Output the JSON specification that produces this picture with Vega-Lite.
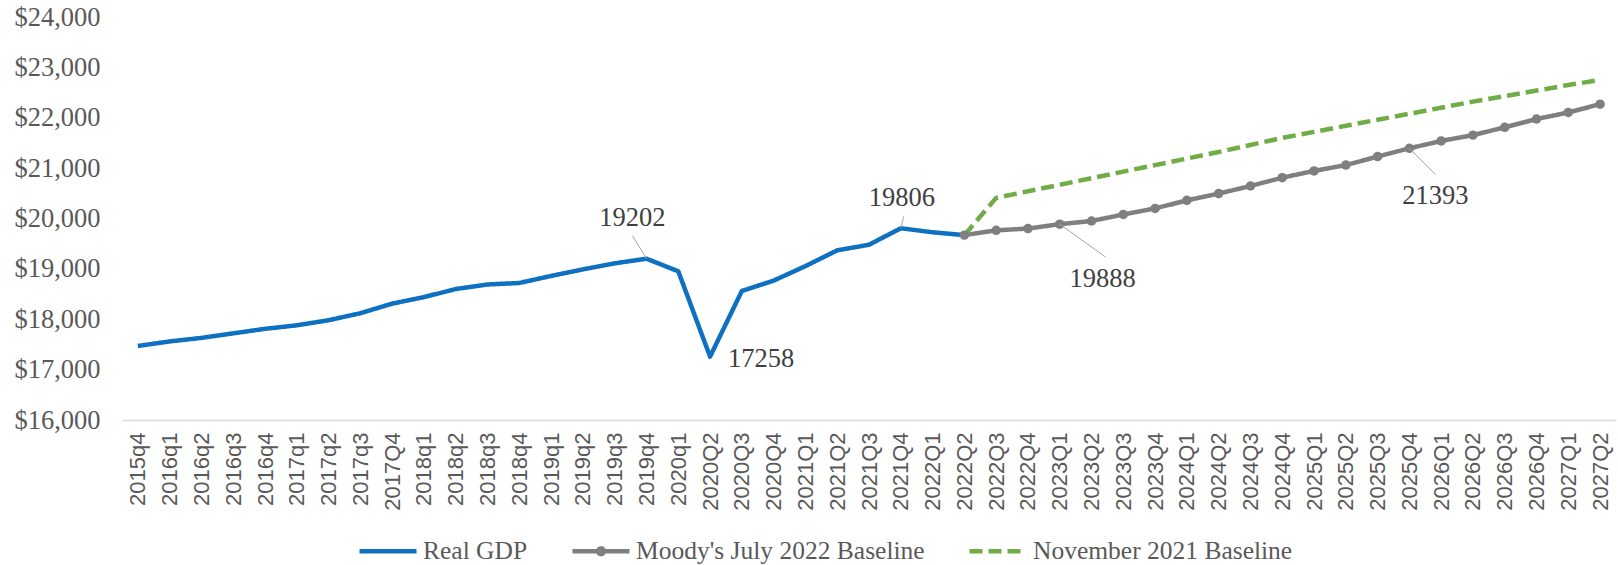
{
  "$schema": "https://vega.github.io/schema/vega-lite/v6.json",
  "width": 1494,
  "height": 403,
  "autosize": "none",
  "padding": {"left": 122, "top": 17, "right": 2, "bottom": 145},
  "background": "white",
  "config": {"view": {"stroke": null}},
  "data": {"values": [
    {"q": "2015q4", "series": "Real GDP", "value": 17470},
    {"q": "2016q1", "series": "Real GDP", "value": 17560},
    {"q": "2016q2", "series": "Real GDP", "value": 17630},
    {"q": "2016q3", "series": "Real GDP", "value": 17720},
    {"q": "2016q4", "series": "Real GDP", "value": 17810},
    {"q": "2017q1", "series": "Real GDP", "value": 17880},
    {"q": "2017q2", "series": "Real GDP", "value": 17980},
    {"q": "2017q3", "series": "Real GDP", "value": 18120},
    {"q": "2017Q4", "series": "Real GDP", "value": 18310},
    {"q": "2018q1", "series": "Real GDP", "value": 18440},
    {"q": "2018q2", "series": "Real GDP", "value": 18600},
    {"q": "2018q3", "series": "Real GDP", "value": 18690},
    {"q": "2018q4", "series": "Real GDP", "value": 18720},
    {"q": "2019q1", "series": "Real GDP", "value": 18860},
    {"q": "2019q2", "series": "Real GDP", "value": 18990},
    {"q": "2019q3", "series": "Real GDP", "value": 19110},
    {"q": "2019q4", "series": "Real GDP", "value": 19202, "note": "19202"},
    {"q": "2020q1", "series": "Real GDP", "value": 18952},
    {"q": "2020Q2", "series": "Real GDP", "value": 17258, "note": "17258"},
    {"q": "2020Q3", "series": "Real GDP", "value": 18561},
    {"q": "2020Q4", "series": "Real GDP", "value": 18767},
    {"q": "2021Q1", "series": "Real GDP", "value": 19055},
    {"q": "2021Q2", "series": "Real GDP", "value": 19368},
    {"q": "2021Q3", "series": "Real GDP", "value": 19479},
    {"q": "2021Q4", "series": "Real GDP", "value": 19806, "note": "19806"},
    {"q": "2022Q1", "series": "Real GDP", "value": 19727},
    {"q": "2022Q2", "series": "Real GDP", "value": 19670},
    {"q": "2022Q2", "series": "Moody's July 2022 Baseline", "value": 19670},
    {"q": "2022Q3", "series": "Moody's July 2022 Baseline", "value": 19765},
    {"q": "2022Q4", "series": "Moody's July 2022 Baseline", "value": 19800},
    {"q": "2023Q1", "series": "Moody's July 2022 Baseline", "value": 19888, "note": "19888"},
    {"q": "2023Q2", "series": "Moody's July 2022 Baseline", "value": 19950},
    {"q": "2023Q3", "series": "Moody's July 2022 Baseline", "value": 20080},
    {"q": "2023Q4", "series": "Moody's July 2022 Baseline", "value": 20200},
    {"q": "2024Q1", "series": "Moody's July 2022 Baseline", "value": 20360},
    {"q": "2024Q2", "series": "Moody's July 2022 Baseline", "value": 20495},
    {"q": "2024Q3", "series": "Moody's July 2022 Baseline", "value": 20645},
    {"q": "2024Q4", "series": "Moody's July 2022 Baseline", "value": 20810},
    {"q": "2025Q1", "series": "Moody's July 2022 Baseline", "value": 20945},
    {"q": "2025Q2", "series": "Moody's July 2022 Baseline", "value": 21060},
    {"q": "2025Q3", "series": "Moody's July 2022 Baseline", "value": 21230},
    {"q": "2025Q4", "series": "Moody's July 2022 Baseline", "value": 21393, "note": "21393"},
    {"q": "2026Q1", "series": "Moody's July 2022 Baseline", "value": 21540},
    {"q": "2026Q2", "series": "Moody's July 2022 Baseline", "value": 21655},
    {"q": "2026Q3", "series": "Moody's July 2022 Baseline", "value": 21810},
    {"q": "2026Q4", "series": "Moody's July 2022 Baseline", "value": 21975},
    {"q": "2027Q1", "series": "Moody's July 2022 Baseline", "value": 22105},
    {"q": "2027Q2", "series": "Moody's July 2022 Baseline", "value": 22270},
    {"q": "2022Q2", "series": "November 2021 Baseline", "value": 19670},
    {"q": "2022Q3", "series": "November 2021 Baseline", "value": 20410},
    {"q": "2022Q4", "series": "November 2021 Baseline", "value": 20540},
    {"q": "2023Q1", "series": "November 2021 Baseline", "value": 20670},
    {"q": "2023Q2", "series": "November 2021 Baseline", "value": 20800},
    {"q": "2023Q3", "series": "November 2021 Baseline", "value": 20930},
    {"q": "2023Q4", "series": "November 2021 Baseline", "value": 21060},
    {"q": "2024Q1", "series": "November 2021 Baseline", "value": 21190},
    {"q": "2024Q2", "series": "November 2021 Baseline", "value": 21320},
    {"q": "2024Q3", "series": "November 2021 Baseline", "value": 21460},
    {"q": "2024Q4", "series": "November 2021 Baseline", "value": 21600},
    {"q": "2025Q1", "series": "November 2021 Baseline", "value": 21720},
    {"q": "2025Q2", "series": "November 2021 Baseline", "value": 21840},
    {"q": "2025Q3", "series": "November 2021 Baseline", "value": 21960},
    {"q": "2025Q4", "series": "November 2021 Baseline", "value": 22080},
    {"q": "2026Q1", "series": "November 2021 Baseline", "value": 22200},
    {"q": "2026Q2", "series": "November 2021 Baseline", "value": 22320},
    {"q": "2026Q3", "series": "November 2021 Baseline", "value": 22430},
    {"q": "2026Q4", "series": "November 2021 Baseline", "value": 22540},
    {"q": "2027Q1", "series": "November 2021 Baseline", "value": 22650},
    {"q": "2027Q2", "series": "November 2021 Baseline", "value": 22750}
  ]},
  "encoding": {
    "x": {
      "field": "q", "type": "ordinal",
      "scale": {"type": "point", "padding": 0.5, "domain": ["2015q4","2016q1","2016q2","2016q3","2016q4","2017q1","2017q2","2017q3","2017Q4","2018q1","2018q2","2018q3","2018q4","2019q1","2019q2","2019q3","2019q4","2020q1","2020Q2","2020Q3","2020Q4","2021Q1","2021Q2","2021Q3","2021Q4","2022Q1","2022Q2","2022Q3","2022Q4","2023Q1","2023Q2","2023Q3","2023Q4","2024Q1","2024Q2","2024Q3","2024Q4","2025Q1","2025Q2","2025Q3","2025Q4","2026Q1","2026Q2","2026Q3","2026Q4","2027Q1","2027Q2"]},
      "axis": {"title": null, "labelAngle": -90, "labelFont": "Liberation Sans", "labelFontSize": 22, "labelColor": "#595959", "ticks": false, "tickSize": 0, "labelPadding": 12, "domainColor": "#D9D9D9", "domainWidth": 1.5, "grid": false}
    },
    "y": {
      "field": "value", "type": "quantitative",
      "scale": {"domain": [16000, 24000], "nice": false, "zero": false},
      "axis": {"title": null, "values": [16000,17000,18000,19000,20000,21000,22000,23000,24000], "format": "$,.0f", "labelFont": "Liberation Serif", "labelFontSize": 26.5, "labelColor": "#595959", "ticks": false, "tickSize": 0, "labelPadding": 22, "domain": false, "grid": false}
    }
  },
  "layer": [
    {
      "mark": {"type": "line", "strokeWidth": 4.5, "strokeCap": "butt", "strokeJoin": "round"},
      "encoding": {
        "color": {"field": "series", "type": "nominal",
          "scale": {"domain": ["Real GDP", "Moody's July 2022 Baseline", "November 2021 Baseline"], "range": ["#0E70C0", "#7F7F7F", "#70AD47"]},
          "legend": {"title": null, "orient": "none", "legendX": 235, "legendY": 503, "direction": "horizontal", "symbolType": "stroke", "symbolSize": 3249, "symbolStrokeWidth": 4.5, "labelFont": "Liberation Serif", "labelFontSize": 25.5, "labelColor": "#595959", "labelOffset": 4, "columnPadding": 35, "padding": 0, "labelLimit": 500,
            "encode": {"symbols": {"update": {"shape": {"signal": "datum.value === \"Moody's July 2022 Baseline\" ? 'M-1,0H1M-0.1,0A0.1,0.1,0,1,1,0.1,0A0.1,0.1,0,1,1,-0.1,0' : 'stroke'"}}}}}
        },
        "strokeDash": {"field": "series", "type": "nominal",
          "scale": {"domain": ["Real GDP", "Moody's July 2022 Baseline", "November 2021 Baseline"], "range": [[1, 0], [1, 0], [13, 6]]}},
        "order": {"field": "series", "sort": "descending"}
      }
    },
    {
      "transform": [{"filter": "datum.series === \"Moody's July 2022 Baseline\""}],
      "mark": {"type": "point", "filled": true, "color": "#7F7F7F", "opacity": 1, "size": 90}
    },
    {
      "transform": [{"filter": "datum.note === '19202'"}],
      "mark": {"type": "rule", "color": "#A6A6A6", "strokeWidth": 1, "x2Offset": -14, "y2Offset": -23},
      "encoding": {"x2": {"field": "q"}, "y2": {"field": "value"}}
    },
    {
      "transform": [{"filter": "datum.note === '19806'"}],
      "mark": {"type": "rule", "color": "#A6A6A6", "strokeWidth": 1, "x2Offset": 3, "y2Offset": -12},
      "encoding": {"x2": {"field": "q"}, "y2": {"field": "value"}}
    },
    {
      "transform": [{"filter": "datum.note === '19888'"}],
      "mark": {"type": "rule", "color": "#A6A6A6", "strokeWidth": 1, "x2Offset": 46, "y2Offset": 33},
      "encoding": {"x2": {"field": "q"}, "y2": {"field": "value"}}
    },
    {
      "transform": [{"filter": "datum.note === '21393'"}],
      "mark": {"type": "rule", "color": "#A6A6A6", "strokeWidth": 1, "x2Offset": 26, "y2Offset": 26},
      "encoding": {"x2": {"field": "q"}, "y2": {"field": "value"}}
    },
    {
      "transform": [{"filter": "datum.note === '19202'"}],
      "mark": {"type": "text", "font": "Liberation Serif", "fontSize": 26.5, "color": "#404040", "align": "center", "baseline": "middle", "dx": -14, "dy": -41},
      "encoding": {"text": {"field": "note"}}
    },
    {
      "transform": [{"filter": "datum.note === '17258'"}],
      "mark": {"type": "text", "font": "Liberation Serif", "fontSize": 26.5, "color": "#404040", "align": "left", "baseline": "middle", "dx": 18, "dy": 2},
      "encoding": {"text": {"field": "note"}}
    },
    {
      "transform": [{"filter": "datum.note === '19806'"}],
      "mark": {"type": "text", "font": "Liberation Serif", "fontSize": 26.5, "color": "#404040", "align": "center", "baseline": "middle", "dx": 1, "dy": -30},
      "encoding": {"text": {"field": "note"}}
    },
    {
      "transform": [{"filter": "datum.note === '19888'"}],
      "mark": {"type": "text", "font": "Liberation Serif", "fontSize": 26.5, "color": "#404040", "align": "center", "baseline": "middle", "dx": 43, "dy": 55},
      "encoding": {"text": {"field": "note"}}
    },
    {
      "transform": [{"filter": "datum.note === '21393'"}],
      "mark": {"type": "text", "font": "Liberation Serif", "fontSize": 26.5, "color": "#404040", "align": "center", "baseline": "middle", "dx": 26, "dy": 48},
      "encoding": {"text": {"field": "note"}}
    }
  ]
}
